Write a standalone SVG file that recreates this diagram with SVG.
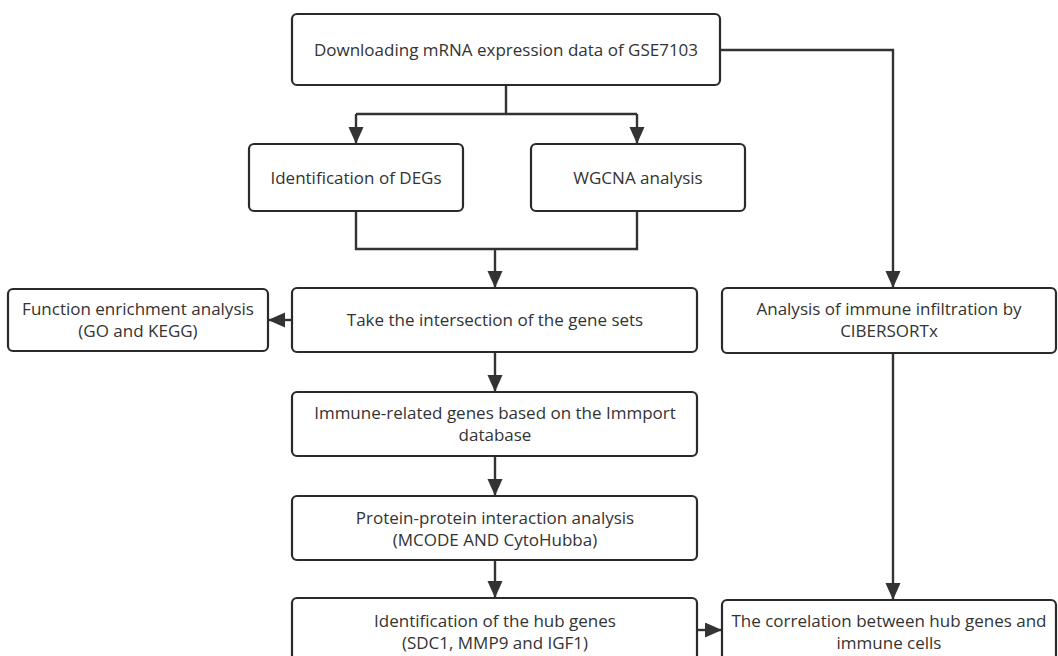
<svg xmlns="http://www.w3.org/2000/svg" width="1058" height="656" viewBox="0 0 1058 656">
<style>
.box{fill:#fff;stroke:#2a2a2a;stroke-width:2.2}
.t{font-family:"Open Sans","Noto Sans","DejaVu Sans",sans-serif;font-size:17px;fill:#333;text-anchor:middle}
.c{fill:none;stroke:#333;stroke-width:2.4}
</style>
<defs>
<marker id="ah" markerUnits="userSpaceOnUse" markerWidth="18" markerHeight="16" refX="17" refY="7.5" orient="auto">
<path d="M0,0 L17,7.5 L0,15 Z" fill="#333"/>
</marker>
</defs>
<rect width="1058" height="656" fill="#fff"/>
<g id="connectors">
<path class="c" d="M506,85 V114 M356,114 H637"/>
<path class="c" d="M356,114 V144" marker-end="url(#ah)"/>
<path class="c" d="M637,114 V144" marker-end="url(#ah)"/>
<path class="c" d="M356,211 V249 H637 V211"/>
<path class="c" d="M495,249 V288" marker-end="url(#ah)"/>
<path class="c" d="M720,50 H893 V288" marker-end="url(#ah)"/>
<path class="c" d="M292,320 H268" marker-end="url(#ah)"/>
<path class="c" d="M495,352 V392" marker-end="url(#ah)"/>
<path class="c" d="M495,456 V496" marker-end="url(#ah)"/>
<path class="c" d="M495,560 V598" marker-end="url(#ah)"/>
<path class="c" d="M893,353 V600" marker-end="url(#ah)"/>
<path class="c" d="M697,630 H722" marker-end="url(#ah)"/>
</g>
<g id="n-download">
<rect class="box" x="292" y="14" width="428" height="71" rx="5"/>
<text class="t" x="506" y="56">Downloading mRNA expression data of GSE7103</text>
</g>
<g id="n-degs">
<rect class="box" x="249" y="144" width="214" height="67" rx="5"/>
<text class="t" x="356" y="184">Identification of DEGs</text>
</g>
<g id="n-wgcna">
<rect class="box" x="531" y="144" width="214" height="67" rx="5"/>
<text class="t" x="638" y="184">WGCNA analysis</text>
</g>
<g id="n-function">
<rect class="box" x="8" y="289" width="260" height="62" rx="5"/>
<text class="t" x="138" y="315">Function enrichment analysis</text>
<text class="t" x="138" y="337">(GO and KEGG)</text>
</g>
<g id="n-intersection">
<rect class="box" x="292" y="288" width="405" height="64" rx="5"/>
<text class="t" x="495" y="326">Take the intersection of the gene sets</text>
</g>
<g id="n-immune-inf">
<rect class="box" x="722" y="288" width="334" height="65" rx="5"/>
<text class="t" x="889" y="315">Analysis of immune infiltration by</text>
<text class="t" x="889" y="337">CIBERSORTx</text>
</g>
<g id="n-immport">
<rect class="box" x="292" y="392" width="405" height="64" rx="5"/>
<text class="t" x="495" y="419">Immune-related genes based on the Immport</text>
<text class="t" x="495" y="441">database</text>
</g>
<g id="n-ppi">
<rect class="box" x="292" y="496" width="405" height="64" rx="5"/>
<text class="t" x="495" y="524">Protein-protein interaction analysis</text>
<text class="t" x="495" y="546">(MCODE AND CytoHubba)</text>
</g>
<g id="n-hub">
<rect class="box" x="292" y="598" width="405" height="66" rx="5"/>
<text class="t" x="495" y="627">Identification of the hub genes</text>
<text class="t" x="495" y="649">(SDC1, MMP9 and IGF1)</text>
</g>
<g id="n-correlation">
<rect class="box" x="722" y="600" width="334" height="64" rx="5"/>
<text class="t" x="889" y="627">The correlation between hub genes and</text>
<text class="t" x="889" y="649">immune cells</text>
</g>
</svg>
